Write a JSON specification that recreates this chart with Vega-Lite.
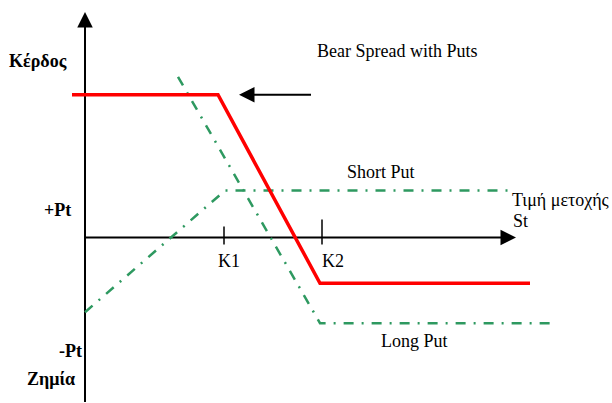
{
  "$schema": "https://vega.github.io/schema/vega-lite/v6.json",
  "width": 612,
  "height": 403,
  "autosize": {"type": "fit", "contains": "padding"},
  "padding": 0,
  "background": "white",
  "config": {"view": {"stroke": null}},
  "datasets": {
    "payoff": [
      {"s": "Bear Spread", "i": 1, "x": -13, "y": 143},
      {"s": "Bear Spread", "i": 2, "x": 133, "y": 143},
      {"s": "Bear Spread", "i": 3, "x": 235, "y": -46},
      {"s": "Bear Spread", "i": 4, "x": 445, "y": -46},
      {"s": "Short Put", "i": 1, "x": 0, "y": -75},
      {"s": "Short Put", "i": 2, "x": 140, "y": 47},
      {"s": "Short Put", "i": 3, "x": 425, "y": 47},
      {"s": "Long Put", "i": 1, "x": 93, "y": 161},
      {"s": "Long Put", "i": 2, "x": 235, "y": -86},
      {"s": "Long Put", "i": 3, "x": 467, "y": -86}
    ],
    "segments": [
      {"kind": "axis", "x": 0, "y": -165, "x2": 0, "y2": 213},
      {"kind": "axis", "x": 0, "y": 0, "x2": 418, "y2": 0},
      {"kind": "axis", "x": 165, "y": 143, "x2": 226, "y2": 143},
      {"kind": "tick", "x": 139, "y": 11, "x2": 139, "y2": -7},
      {"kind": "tick", "x": 237, "y": 18, "x2": 237, "y2": -7}
    ],
    "heads": [
      {"dir": "right", "x": 431, "y": 0},
      {"dir": "up", "x": 0, "y": 226},
      {"dir": "left", "x": 154, "y": 143}
    ],
    "labels": [
      {"role": "axis", "t": "Κέρδος", "x": -76, "y": 176},
      {"role": "axis", "t": "+Pt", "x": -41, "y": 26},
      {"role": "axis", "t": "-Pt", "x": -26, "y": -115},
      {"role": "axis", "t": "Ζημία", "x": -58, "y": -143},
      {"role": "note", "t": "Bear Spread with Puts", "x": 232, "y": 186},
      {"role": "note", "t": "Short Put", "x": 262, "y": 65},
      {"role": "note", "t": "Τιμή μετοχής", "x": 427, "y": 36},
      {"role": "note", "t": "St", "x": 428, "y": 15},
      {"role": "note", "t": "K1", "x": 133, "y": -25},
      {"role": "note", "t": "K2", "x": 237, "y": -25},
      {"role": "note", "t": "Long Put", "x": 296, "y": -105}
    ]
  },
  "encoding": {
    "x": {"type": "quantitative", "scale": {"domain": [-85, 527], "nice": false, "zero": false}, "axis": null},
    "y": {"type": "quantitative", "scale": {"domain": [-165, 238], "nice": false, "zero": false}, "axis": null}
  },
  "layer": [
    {
      "data": {"name": "segments"},
      "transform": [{"filter": "datum.kind == 'axis'"}],
      "mark": {"type": "rule", "color": "black", "strokeWidth": 2},
      "encoding": {"x": {"field": "x"}, "y": {"field": "y"}, "x2": {"field": "x2"}, "y2": {"field": "y2"}}
    },
    {
      "data": {"name": "segments"},
      "transform": [{"filter": "datum.kind == 'tick'"}],
      "mark": {"type": "rule", "color": "black", "strokeWidth": 1.5},
      "encoding": {"x": {"field": "x"}, "y": {"field": "y"}, "x2": {"field": "x2"}, "y2": {"field": "y2"}}
    },
    {
      "data": {"name": "heads"},
      "mark": {"type": "point", "filled": true, "color": "black", "opacity": 1, "size": 240},
      "encoding": {
        "x": {"field": "x"},
        "y": {"field": "y"},
        "shape": {"field": "dir", "type": "nominal", "legend": null,
          "scale": {"domain": ["right", "up", "left"], "range": ["M0,0L-2,-1L-2,1Z", "M0,0L-1,2L1,2Z", "M0,0L2,-1L2,1Z"]}}
      }
    },
    {
      "data": {"name": "payoff"},
      "transform": [{"filter": "datum.s != 'Bear Spread'"}],
      "mark": {"type": "line", "color": "#2e9960", "strokeWidth": 2.5, "strokeDash": [10, 8, 2, 8]},
      "encoding": {"x": {"field": "x"}, "y": {"field": "y"}, "detail": {"field": "s"}, "order": {"field": "i"}}
    },
    {
      "data": {"name": "payoff"},
      "transform": [{"filter": "datum.s == 'Bear Spread'"}],
      "mark": {"type": "line", "color": "#ff0000", "strokeWidth": 3.5},
      "encoding": {"x": {"field": "x"}, "y": {"field": "y"}, "order": {"field": "i"}}
    },
    {
      "data": {"name": "labels"},
      "transform": [{"filter": "datum.role == 'axis'"}],
      "mark": {"type": "text", "align": "left", "baseline": "middle", "font": "Liberation Serif", "fontSize": 18, "fontWeight": "bold", "color": "black"},
      "encoding": {"x": {"field": "x"}, "y": {"field": "y"}, "text": {"field": "t"}}
    },
    {
      "data": {"name": "labels"},
      "transform": [{"filter": "datum.role == 'note'"}],
      "mark": {"type": "text", "align": "left", "baseline": "middle", "font": "Liberation Serif", "fontSize": 18, "color": "black"},
      "encoding": {"x": {"field": "x"}, "y": {"field": "y"}, "text": {"field": "t"}}
    }
  ]
}
